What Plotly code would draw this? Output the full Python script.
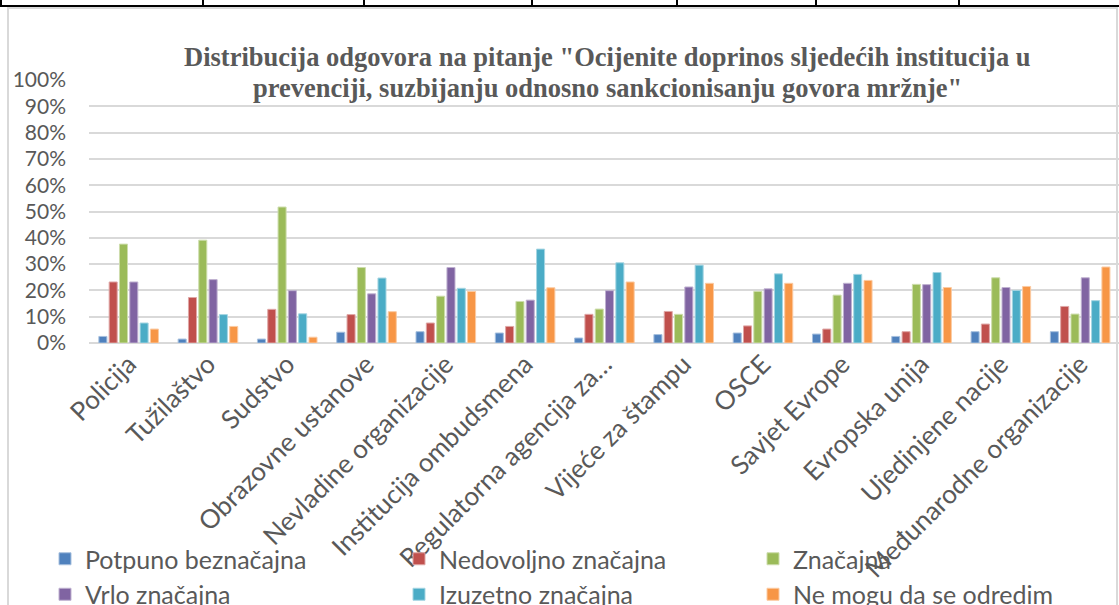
import plotly.graph_objects as go

# institutions (x categories)
institucije = ['Policija', 'Tužilaštvo', 'Sudstvo', 'Obrazovne ustanove',
               'Nevladine organizacije', 'Institucija ombudsmena',
               'Regulatorna agencija za…', 'Vijeće za štampu', 'OSCE',
               'Savjet Evrope', 'Evropska unija', 'Ujedinjene nacije',
               'Međunarodne organizacije']

# shares per answer, in %
potpuno_beznacajna = [2.5, 1.5, 1.5, 4.1, 4.3, 3.8, 1.9, 3.2, 3.8, 3.4, 2.5, 4.3, 4.3]
nedovoljno_znacajna = [23.2, 17.3, 12.8, 10.8, 7.6, 6.3, 10.9, 12.0, 6.5, 5.3, 4.3, 7.2, 13.9]
znacajna = [37.6, 39.1, 51.7, 28.7, 17.8, 15.8, 12.9, 10.9, 19.6, 18.2, 22.3, 24.8, 11.0]
vrlo_znacajna = [23.2, 24.1, 19.9, 18.7, 28.7, 16.3, 19.9, 21.3, 20.6, 22.7, 22.2, 21.1, 24.8]
izuzetno_znacajna = [7.6, 10.8, 11.1, 24.7, 20.8, 35.7, 30.5, 29.6, 26.3, 26.1, 26.8, 20.0, 16.1]
ne_mogu = [5.3, 6.3, 2.2, 11.9, 19.6, 21.0, 23.2, 22.7, 22.7, 23.8, 21.1, 21.5, 28.9]

serije = [
    ('Potpuno beznačajna', potpuno_beznacajna, '#4F81BD', '#A7C0DE'),
    ('Nedovoljno značajna', nedovoljno_znacajna, '#C0504D', '#DFA7A6'),
    ('Značajna', znacajna, '#9BBB59', '#CDDDAC'),
    ('Vrlo značajna', vrlo_znacajna, '#8064A2', '#BFB1D0'),
    ('Izuzetno značajna', izuzetno_znacajna, '#4BACC6', '#A5D5E2'),
    ('Ne mogu da se odredim', ne_mogu, '#F79646', '#FBCAA2'),
]

naslov = ['Distribucija odgovora na pitanje "Ocijenite doprinos sljedećih institucija u',
          'prevenciji, suzbijanju odnosno sankcionisanju govora mržnje"']

W, H = 1119, 605
L, R, T, B = 89, 0, 80, 262
pw, ph = W - L - R, H - T - B


def px_x(x):
    return (x - L) / pw


def px_y(y):
    return (H - B - y) / ph


grey = '#595959'
fnt = 'Lato, Carlito, Calibri, sans-serif'

fig = go.Figure()
for name, vals, col, edge in serije:
    fig.add_trace(go.Bar(
        x=institucije, y=[v / 100 for v in vals], name=name,
        marker=dict(color=col, line=dict(color=edge, width=1)),
    ))

fig.update_layout(
    width=W, height=H,
    margin=dict(l=L, r=R, t=T, b=B, pad=0, autoexpand=False),
    paper_bgcolor='white', plot_bgcolor='white',
    barmode='group', bargap=0.22, bargroupgap=0.22,
    font=dict(family=fnt, color=grey, size=20),
    xaxis=dict(range=[-0.5, 12.49], tickangle=-45, showgrid=False,
               ticks='', automargin=False, tickfont=dict(size=26, color=grey)),
    yaxis=dict(range=[0, 1], dtick=0.1, tickformat='.0%',
               gridcolor='#D9D9D9', gridwidth=2,
               zeroline=True, zerolinecolor='#D9D9D9', zerolinewidth=2,
               ticks='', automargin=False, ticklabelstandoff=22,
               tickfont=dict(size=21, color=grey)),
    legend=dict(orientation='h', xref='paper', yref='paper',
                x=px_x(45), y=px_y(536), xanchor='left', yanchor='top',
                entrywidth=309, entrywidthmode='pixels',
                font=dict(size=25, color=grey), traceorder='normal',
                bgcolor='rgba(0,0,0,0)'),
    showlegend=True,
)

# two-line title, each line placed on its own
for txt, yy in zip(naslov, [57, 88]):
    fig.add_annotation(text=txt, xref='paper', yref='paper',
                       x=px_x(607), y=px_y(yy), xanchor='center', yanchor='middle',
                       showarrow=False,
                       font=dict(family='Liberation Serif, Times New Roman, serif',
                                 size=26.5, color=grey, weight='bold'))

# chart frame
fig.add_shape(type='rect', xref='paper', yref='paper',
              x0=px_x(8), x1=px_x(1117), y0=px_y(620), y1=px_y(8),
              line=dict(color='#D9D9D9', width=2), layer='below')

# bottom of the table cut above the chart
fig.add_shape(type='line', xref='paper', yref='paper',
              x0=px_x(0), x1=px_x(W), y0=px_y(6), y1=px_y(6),
              line=dict(color='black', width=2))
for xv in [1, 203, 364, 532, 677, 816, 959]:
    fig.add_shape(type='line', xref='paper', yref='paper',
                  x0=px_x(xv), x1=px_x(xv), y0=px_y(6), y1=px_y(-2),
                  line=dict(color='black', width=2))

fig.write_html('out.html', config={'displayModeBar': False},
               post_script="document.body.style.margin='0';")
